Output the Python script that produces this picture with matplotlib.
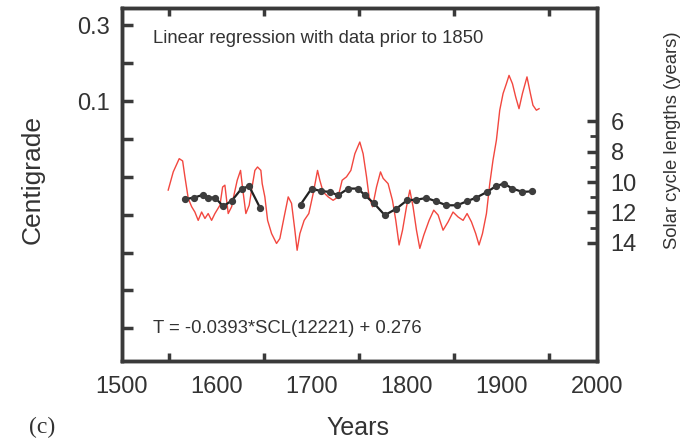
import matplotlib as mpl

mpl.use("Agg")

import matplotlib.pyplot as plt

mpl.rcParams.update(
    {
        "font.family": ["Liberation Sans", "DejaVu Sans"],
        "text.color": "#333333",
        "axes.edgecolor": "#3a3a3a",
        "xtick.color": "#3a3a3a",
        "ytick.color": "#3a3a3a",
        "xtick.labelcolor": "#333333",
        "ytick.labelcolor": "#333333",
    }
)

# temperature reconstruction (red), degrees C
temp_years = [
    1548.7, 1554.0, 1560.3, 1563.9, 1566.3, 1569.8, 1573.4, 1576.8, 1580.3, 1583.9,
    1587.4, 1590.8, 1594.4, 1597.9, 1603.2, 1606.0, 1608.4, 1611.9, 1615.5, 1617.9,
    1621.4, 1624.9, 1627.1, 1630.5, 1634.0, 1636.5, 1640.0, 1642.8, 1646.3, 1647.7,
    1650.5, 1653.4, 1657.6, 1662.8, 1666.3, 1670.8, 1675.1, 1678.6, 1682.1, 1684.5,
    1687.4, 1691.9, 1696.8, 1701.4, 1706.0, 1708.4, 1711.9, 1717.2, 1722.4, 1727.7,
    1731.9, 1736.5, 1741.1, 1745.3, 1750.5, 1754.0, 1757.6, 1760.3, 1763.9, 1768.1,
    1772.3, 1775.1, 1780.3, 1784.9, 1788.4, 1791.9, 1795.5, 1799.7, 1803.2, 1806.6,
    1810.2, 1813.7, 1817.9, 1823.5, 1828.4, 1833.0, 1838.2, 1843.5, 1848.7, 1854.0,
    1859.3, 1863.5, 1868.1, 1872.6, 1876.1, 1879.7, 1883.9, 1887.4, 1890.8, 1894.4,
    1897.9, 1901.4, 1904.9, 1907.7, 1911.3, 1914.7, 1918.2, 1921.8, 1926.6, 1930.2,
    1932.9, 1936.5, 1939.3,
]
temp_values = [
    -0.135, -0.087, -0.052, -0.058, -0.100, -0.157, -0.179, -0.193, -0.215, -0.193,
    -0.210, -0.197, -0.215, -0.197, -0.175, -0.127, -0.122, -0.197, -0.179, -0.149,
    -0.109, -0.083, -0.131, -0.197, -0.175, -0.135, -0.083, -0.074, -0.083, -0.118,
    -0.153, -0.215, -0.250, -0.276, -0.263, -0.206, -0.153, -0.170, -0.241, -0.294,
    -0.250, -0.215, -0.197, -0.144, -0.083, -0.109, -0.140, -0.153, -0.162, -0.153,
    -0.109, -0.100, -0.083, -0.039, -0.008, -0.039, -0.100, -0.153, -0.179, -0.127,
    -0.087, -0.104, -0.118, -0.162, -0.215, -0.280, -0.241, -0.179, -0.135, -0.179,
    -0.241, -0.289, -0.254, -0.215, -0.188, -0.201, -0.241, -0.219, -0.193, -0.206,
    -0.215, -0.197, -0.219, -0.250, -0.280, -0.250, -0.197, -0.118, -0.056, -0.003,
    0.076, 0.120, 0.146, 0.168, 0.146, 0.111, 0.080, 0.120, 0.164, 0.120,
    0.089, 0.076, 0.080,
]

# solar cycle lengths (black dots), two separate segments
scl_years_early = [1566.3, 1576.1, 1584.9, 1590.8, 1597.9, 1606.6, 1615.8, 1626.0, 1634.0, 1645.3]
scl_early = [11.13, 11.02, 10.85, 11.02, 11.02, 11.59, 11.22, 10.43, 10.28, 11.68]
scl_years_late = [
    1688.1, 1699.7, 1709.2, 1718.9, 1727.7, 1738.2, 1748.7, 1755.8, 1765.6, 1776.8,
    1788.9, 1800.3, 1810.2, 1820.7, 1830.5, 1841.8, 1853.0, 1863.5, 1873.4, 1884.5,
    1893.7, 1902.1, 1911.3, 1921.8, 1932.3,
]
scl_late = [
    11.48, 10.43, 10.59, 10.65, 10.87, 10.43, 10.43, 10.87, 11.41, 12.18,
    11.76, 11.20, 11.16, 11.05, 11.26, 11.53, 11.53, 11.26, 11.02, 10.65,
    10.28, 10.10, 10.43, 10.65, 10.61,
]

left_ticks = [0.3, 0.2, 0.1, 0.0, -0.1, -0.2, -0.3, -0.4, -0.5]
left_labels = ["0.3", "", "0.1", "", "", "", "", "", ""]
year_ticks = [1500, 1600, 1700, 1800, 1900, 2000]
right_ticks = [6, 8, 10, 12, 14]

fig = plt.figure(figsize=(6.93, 4.41), dpi=100)
ax = fig.add_axes([0.176, 0.181, 0.685, 0.800])

ax.plot(temp_years, temp_values, color="#f2473f", lw=1.0, zorder=2)
ax.set_xlim(1500, 2000)
ax.set_ylim(-0.587, 0.345)
ax.set_yticks(left_ticks)
ax.set_yticklabels(left_labels)
ax.set_xticks(year_ticks)
ax.set_xticks(range(1550, 2000, 50), minor=True)
ax.tick_params(axis="x", which="both", direction="in", top=True, labelsize=17, pad=11)
ax.tick_params(axis="x", which="major", length=0)
ax.tick_params(axis="x", which="minor", length=6, width=2.5)
ax.tick_params(axis="y", direction="in", length=8, width=2.5, labelsize=17, pad=9)
for s in ax.spines.values():
    s.set_linewidth(2.5)

ax2 = ax.twinx()
ax2.set_ylim(21.79, -1.43)
for xs, ys in [(scl_years_early, scl_early), (scl_years_late, scl_late)]:
    ax2.plot(xs, ys, color="#222222", lw=1.6, marker="o", ms=4.2,
             mfc="#3d3d3d", mec="#3d3d3d", zorder=3)
ax2.set_yticks(right_ticks)
ax2.set_yticks([7, 9, 11, 13], minor=True)
ax2.tick_params(axis="y", which="major", direction="in", length=7, width=2.5, labelsize=17, pad=10)
ax2.tick_params(axis="y", which="minor", direction="in", length=5, width=2.0)
for s in ax2.spines.values():
    s.set_linewidth(2.5)

ax.text(0.065, 0.915, "Linear regression with data prior to 1850",
        transform=ax.transAxes, fontsize=13.3, ha="left", va="center")
ax.text(0.065, 0.093, "T = -0.0393*SCL(12221) + 0.276",
        transform=ax.transAxes, fontsize=13.3, ha="left", va="center")

fig.text(0.047, 0.592, "Centigrade", rotation=90, fontsize=19, ha="center", va="center")
fig.text(0.517, 0.03, "Years", fontsize=18, ha="center", va="center")
fig.text(0.970, 0.683, "Solar cycle lengths (years)", rotation=90, fontsize=13.3,
         ha="center", va="center")
fig.text(0.061, 0.03, "(c)", fontsize=17, ha="center", va="center",
         family=["Liberation Serif", "DejaVu Serif"])

fig.savefig("out.png", dpi=100)
